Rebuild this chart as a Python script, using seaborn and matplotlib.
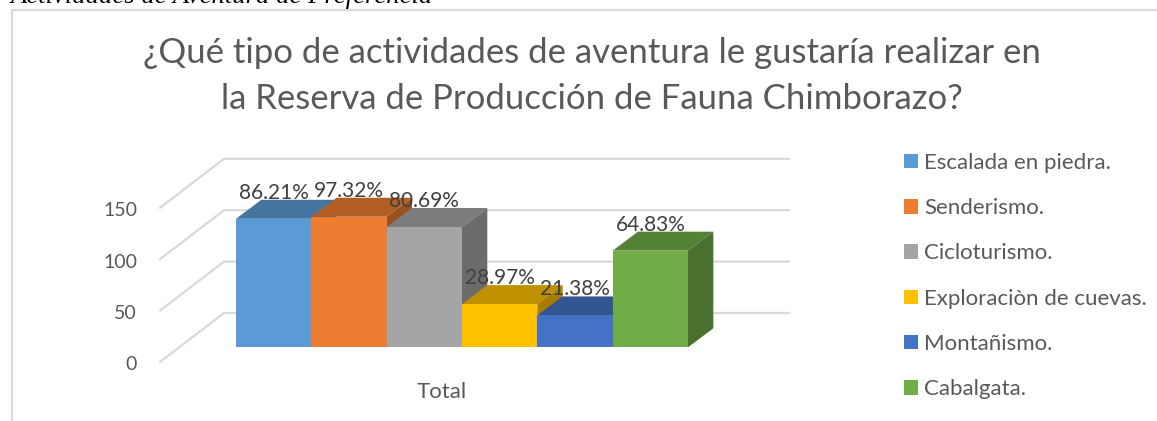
import pandas as pd
import matplotlib
matplotlib.use("Agg")
import matplotlib.pyplot as plt
from matplotlib.patches import Polygon
from matplotlib.lines import Line2D
import seaborn as sns

# values
actividades = ["Escalada en piedra.", "Senderismo.", "Cicloturismo.",
               "Exploraciòn de cuevas.", "Montañismo.", "Cabalgata."]
totales = [125, 127, 117, 42, 31, 94]
etiquetas = ["86.21%", "97.32%", "80.69%", "28.97%", "21.38%", "64.83%"]
colores = ["#5B9BD5", "#ED7D31", "#A5A5A5", "#FFC000", "#4472C4", "#70AD47"]
grid_ticks = [0, 50, 100, 150]
titulo = "¿Qué tipo de actividades de aventura le gustaría realizar en\nla Reserva de Producción de Fauna Chimborazo?"
encabezado = "Actividades de Aventura de Preferencia"

W, H = 1157, 421
sns.set_theme(style="white")
plt.rcParams["font.family"] = ["Lato", "DejaVu Sans"]

df = pd.DataFrame({"grupo": "Total", "actividad": actividades, "valor": totales})

fig = plt.figure(figsize=(W / 100, H / 100), dpi=100)
ax = fig.add_axes([0, 0, 1, 1])
sns.barplot(data=df, x="grupo", y="valor", hue="actividad", hue_order=actividades,
            palette=colores, width=0.8, gap=0, saturation=1, legend=False, ax=ax, zorder=5,
            edgecolor="none", linewidth=0)

# axes fill the figure, so the scales are set to match the picture's pixels
px_x = 565.0
px_y = 1.028
ax.set_xlim(-462 / px_x, (W - 462) / px_x)
ax.set_ylim((347.3 - H) / px_y, 347.3 / px_y)
ax.axis("off")


def dx(p):
    return p / px_x


def dy(p):
    return p / px_y


def tono(color, f):
    r, g, b = matplotlib.colors.to_rgb(color)
    return (r * f, g * f, b * f)


# walls
gris = "#D9D9D9"
for v in grid_ticks:
    y_front = v - dy(14.7)
    y_back = y_front + dy(49)
    x_front = dx(160 - 462)
    x_wall = dx(224 - 462)
    x_end = dx(789 - 462)
    ax.plot([x_front, x_wall, x_end], [y_front, y_back, y_back], color=gris, lw=1.6,
            zorder=1, solid_joinstyle="miter")
    ax.text(dx(137 - 462), y_front - dy(3), str(v), ha="right", va="center", fontsize=14, color="#595959")

# 3d faces of the bars
prof_x = dx(25.3)
prof_y = dy(19)
for i, cont in enumerate(ax.containers):
    bar = cont[0]
    x0, w, h = bar.get_x(), bar.get_width(), bar.get_height()
    bar.set_zorder(5 + 3 * i + 2)
    ax.add_patch(Polygon([(x0, h), (x0 + w, h), (x0 + w + prof_x, h + prof_y), (x0 + prof_x, h + prof_y)],
                         facecolor=tono(colores[i], 0.75), edgecolor="none", zorder=5 + 3 * i))
    ax.add_patch(Polygon([(x0 + w, 0), (x0 + w + prof_x, prof_y), (x0 + w + prof_x, h + prof_y), (x0 + w, h)],
                         facecolor=tono(colores[i], 0.65), edgecolor="none", zorder=5 + 3 * i))
    ax.text(x0 + w / 2, h + dy(26), etiquetas[i], ha="center", va="center", fontsize=15,
            color="#404040", zorder=60)

ax.text(dx(441.5 - 462), dy(347.3 - 392), "Total", ha="center", va="center", fontsize=16, color="#595959")

# title and the text cut off above the chart
fig.text(592 / W, 1 - 76 / H, titulo, ha="center", va="center", fontsize=25, color="#595959", linespacing=1.53)
fig.text(10 / W, 1 - 3 / H, encabezado, ha="left", va="baseline", fontsize=19.3, style="italic",
         family="Liberation Serif", color="black")

# chart frame, only top and left are inside the crop
fig.add_artist(Line2D([1, 11.5 / W, 11.5 / W], [1 - 9.5 / H, 1 - 9.5 / H, 0], color=gris, lw=1.6))

# legend
handles = [plt.Rectangle((0, 0), 1, 1, facecolor=c, edgecolor="none") for c in colores]
ax.legend(handles, actividades, loc="center left", bbox_to_anchor=(884 / W, 1 - 276 / H),
          bbox_transform=fig.transFigure, frameon=False, fontsize=16, labelcolor="#595959",
          labelspacing=1.135, handlelength=0.63, handleheight=0.63, handletextpad=0.27)

fig.savefig("out.png", dpi=100)
